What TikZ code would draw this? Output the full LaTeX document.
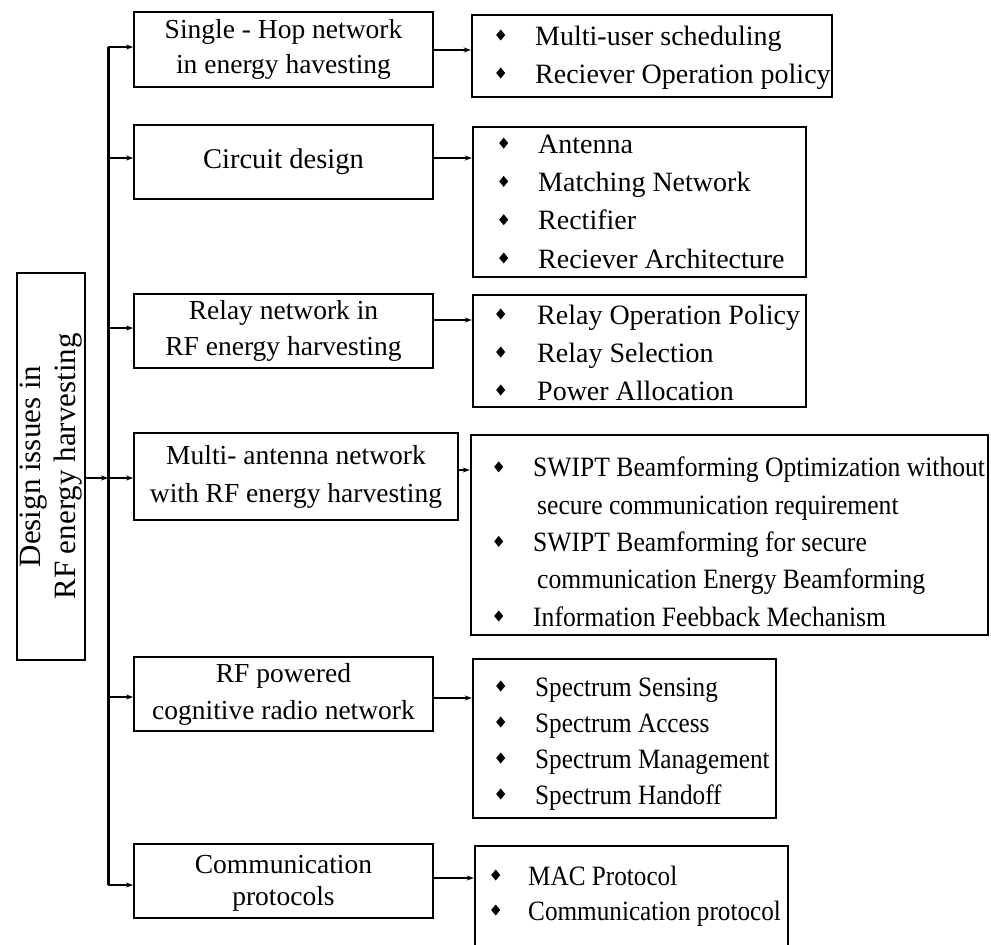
\documentclass[tikz,border=0pt]{standalone}
\usepackage{fontspec}
\setmainfont{Liberation Serif}
\newfontfamily\narrowfont{Liberation Serif}[FakeStretch=0.9]
\newfontfamily\semifont{Liberation Serif}[FakeStretch=0.915]
\usetikzlibrary{arrows.meta}

% small black diamond used as list bullet
\newcommand\bul{\tikz[baseline=0pt]\fill (4.5pt,4.5pt)--(9pt,10pt)--(4.5pt,15.5pt)--(0pt,10pt)--cycle;}
% one list entry: bullet in a box of width #1, then the text
\newcommand\itm[2]{\makebox[#1][l]{\bul}#2}

\begin{document}
\begin{tikzpicture}[x=1pt,y=-1pt,
  box/.style={draw, line width=1.8pt, inner sep=0pt},
  rbox/.style={draw, line width=2.4pt, inner sep=0pt},
  lbl/.style={align=center, inner sep=0pt, font=\fontsize{27.5}{34}\selectfont},
  lst/.style={align=left, anchor=base west, inner sep=0pt},
  arr/.style={line width=1.2pt, -{Stealth[length=7pt,width=5pt]}},
  trunkline/.style={line width=3pt}]

\useasboundingbox (0,0) rectangle (991,945);
\clip (0,0) rectangle (991,945);

% root box
\node[box, minimum width=68pt, minimum height=387pt] (L) at (51,466.5) {};
\node[rotate=90, align=center, inner sep=0pt, font=\fontsize{31}{35}\selectfont] (Lt) at (L.center) {Design issues in\\RF energy harvesting};

% topic boxes
\node[box, minimum width=299pt, minimum height=75pt] (b1) at (283.5,49.5) {};
\node[box, minimum width=299pt, minimum height=74pt] (b2) at (283.5,162) {};
\node[box, minimum width=299pt, minimum height=74pt] (b3) at (283.5,331) {};
\node[box, minimum width=324pt, minimum height=87pt] (b4) at (296,476.5) {};
\node[box, minimum width=299pt, minimum height=74pt] (b5) at (283.5,694) {};
\node[box, minimum width=299pt, minimum height=74pt] (b6) at (283.5,881) {};

\node[lbl, font=\fontsize{27.5}{35}\selectfont] (b1t) at (b1.center) {Single - Hop network\\in energy havesting};
\node[lbl, font=\fontsize{28.5}{36}\selectfont] (b2t) at (b2.center) {Circuit design};
\node[lbl, font=\fontsize{27.5}{36}\selectfont] (b3t) at (b3.center) {Relay network in\\RF energy harvesting};
\node[lbl, font=\fontsize{27.5}{38}\selectfont] (b4t) at (b4.center) {Multi- antenna network\\with RF energy harvesting};
\node[lbl, font=\fontsize{27.5}{37}\selectfont] (b5t) at (b5.center) {RF powered\\cognitive radio network};
\node[lbl, font=\fontsize{27.5}{32}\selectfont] (b6t) at ([yshift=-2pt]b6.center) {Communication\\protocols};

% detail boxes
\node[rbox, minimum width=360pt, minimum height=82pt] (r1) at (652,56) {};
\node[rbox, minimum width=333pt, minimum height=150pt] (r2) at (639.5,202) {};
\node[rbox, minimum width=333pt, minimum height=112pt] (r3) at (639.5,351) {};
\node[rbox, minimum width=517pt, minimum height=200pt] (r4) at (729.5,535) {};
\node[rbox, minimum width=303pt, minimum height=159pt] (r5) at (624.5,738.5) {};
\node[rbox, minimum width=313pt, minimum height=120pt] (r6) at (631.5,906) {};

% lists, each placed by the baseline of its last line
\node[lst, font=\fontsize{28}{38}\selectfont] (r1t) at (496,83)
  {\itm{39pt}{Multi-user scheduling}\\\itm{39pt}{Reciever Operation policy}};
\node[lst, font=\fontsize{28}{38.3}\selectfont] (r2t) at (499,268)
  {\itm{39pt}{Antenna}\\\itm{39pt}{Matching Network}\\\itm{39pt}{Rectifier}\\\itm{39pt}{Reciever Architecture}};
\node[lst, font=\fontsize{28}{38}\selectfont] (r3t) at (496,400)
  {\itm{41pt}{Relay Operation Policy}\\\itm{41pt}{Relay Selection}\\\itm{41pt}{Power Allocation}};
\node[lst, font=\semifont\fontsize{28}{37.3}\selectfont] (r4t) at (494,626)
  {\itm{39pt}{SWIPT Beamforming Optimization without}\\\hspace*{43pt}secure communication requirement\\
   \itm{39pt}{SWIPT Beamforming for secure}\\\hspace*{43pt}communication Energy Beamforming\\
   \itm{39pt}{Information Feebback Mechanism}};
\node[lst, font=\narrowfont\fontsize{28}{36}\selectfont] (r5t) at (496,804)
  {\itm{39pt}{Spectrum Sensing}\\\itm{39pt}{Spectrum Access}\\\itm{39pt}{Spectrum Management}\\\itm{39pt}{Spectrum Handoff}};
\node[lst, font=\narrowfont\fontsize{28}{35}\selectfont] (r6t) at (491,920)
  {\itm{37pt}{MAC Protocol}\\\itm{37pt}{Communication protocol}};

% trunk position and connector heights
\coordinate (tk) at (108,476.5);
\coordinate (i1) at ([yshift=2.5pt]b1.west);
\coordinate (i2) at ([yshift=4pt]b2.west);
\coordinate (i3) at ([yshift=3pt]b3.west);
\coordinate (i4) at ([yshift=-1.5pt]b4.west);
\coordinate (i5) at ([yshift=-3pt]b5.west);
\coordinate (i6) at ([yshift=-4pt]b6.west);
\coordinate (o1) at ([yshift=-0.5pt]b1.east);
\coordinate (o2) at ([yshift=4pt]b2.east);
\coordinate (o3) at ([yshift=11pt]b3.east);
\coordinate (o4) at ([yshift=6.5pt]b4.east);
\coordinate (o5) at ([yshift=-4pt]b5.east);
\coordinate (o6) at ([yshift=3pt]b6.east);

% trunk
\draw[trunkline] (i1 -| tk) -- (i6 -| tk);

% root to trunk
\draw[arr] (L.east |- i4) -- (i4 -| tk);

% trunk to topics
\foreach \i in {1,...,6}{\draw[arr] (i\i -| tk) -- (i\i);}

% topics to details
\foreach \i in {1,...,6}{\draw[arr] (o\i) -- (o\i -| r\i.west);}
\end{tikzpicture}
\end{document}
